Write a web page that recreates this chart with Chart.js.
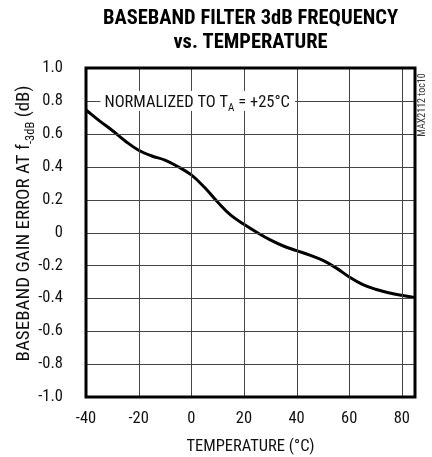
<!DOCTYPE html>
<html>
<head>
<meta charset="utf-8">
<script src="https://cdn.jsdelivr.net/npm/chart.js@4/dist/chart.umd.min.js"></script>
<style>
  html, body { margin: 0; padding: 0; background: #fff; }
</style>
</head>
<body>
<canvas id="tempchart" width="432" height="457"></canvas>
<script>
// temperature (degC) and gain error (dB)
var temps = [-40, -35, -30, -25, -20, -15, -10, -5, 0, 5, 10, 15, 20, 25, 30, 35, 40, 45, 50, 55, 60, 65, 70, 75, 80, 85];
var gainErr = [0.745, 0.68, 0.62, 0.555, 0.50, 0.465, 0.44, 0.40, 0.35, 0.275, 0.185, 0.105, 0.05, 0, -0.045, -0.082, -0.11, -0.138, -0.17, -0.215, -0.27, -0.315, -0.345, -0.366, -0.382, -0.395];

var xTicks = [-40, -20, 0, 20, 40, 60, 80];
var yTickLabels = ['-1.0', '-0.8', '-0.6', '-0.4', '-0.2', '0', '0.2', '0.4', '0.6', '0.8', '1.0'];

var titleLines = ['BASEBAND FILTER 3dB FREQUENCY', 'vs. TEMPERATURE'];
var xTitle = 'TEMPERATURE (\u00B0C)';
var yTitle = ['BASEBAND GAIN ERROR AT f', '-3dB', ' (dB)'];
var note = ['NORMALIZED TO T', 'A', ' = +25\u00B0C'];
var partNo = 'MAX2112 toc10';

var cond = '"Roboto Condensed", "DejaVu Sans Condensed", sans-serif';

var points = temps.map(function (t, i) { return { x: t, y: gainErr[i] }; });

// draw a run of text pieces, odd ones as subscripts
function drawParts(ctx, parts, x, y, size, subSize, subDrop) {
  var cx = x;
  parts.forEach(function (p, i) {
    var sub = i % 2 == 1;
    ctx.font = (sub ? subSize : size) + 'px ' + cond;
    ctx.fillText(p, cx, sub ? y + subDrop : y);
    cx += ctx.measureText(p).width;
  });
  return cx - x;
}
function partsWidth(ctx, parts, size, subSize) {
  var w = 0;
  parts.forEach(function (p, i) {
    ctx.font = (i % 2 == 1 ? subSize : size) + 'px ' + cond;
    w += ctx.measureText(p).width;
  });
  return w;
}

var extras = {
  id: 'extras',
  afterDraw: function (chart) {
    var ctx = chart.ctx, a = chart.chartArea;
    var x = chart.scales.x, y = chart.scales.y;

    // grid at the scales' tick positions
    ctx.save();
    ctx.strokeStyle = '#444';
    ctx.lineWidth = 1;
    ctx.beginPath();
    x.ticks.forEach(function (t) {
      var px = Math.round(x.getPixelForValue(t.value)) + 0.5;
      ctx.moveTo(px, a.top);
      ctx.lineTo(px, a.bottom);
    });
    y.ticks.forEach(function (t) {
      var py = Math.round(y.getPixelForValue(t.value)) + 0.5;
      ctx.moveTo(a.left, py);
      ctx.lineTo(a.right, py);
    });
    ctx.stroke();
    ctx.restore();

    // note sitting on the 0.8 grid line
    var nx = x.getPixelForValue(-33), ny = y.getPixelForValue(0.8);
    var nw = partsWidth(ctx, note, 16.5, 11);
    ctx.save();
    ctx.fillStyle = '#fff';
    ctx.fillRect(nx - 4, ny - 10, nw + 9, 20);
    ctx.fillStyle = '#111';
    ctx.textBaseline = 'alphabetic';
    drawParts(ctx, note, nx, ny + 6, 16.5, 11, 4);
    ctx.restore();

    ctx.save();
    // frame
    ctx.strokeStyle = '#000';
    ctx.lineWidth = 3;
    ctx.strokeRect(a.left, a.top, a.right - a.left, a.bottom - a.top);

    // chart title
    ctx.fillStyle = '#000';
    ctx.textAlign = 'center';
    ctx.textBaseline = 'alphabetic';
    ctx.font = 'bold 20.5px ' + cond;
    var cx = (a.left + a.right) / 2;
    ctx.fillText(titleLines[0], cx, 24);
    ctx.fillText(titleLines[1], cx, 47.5);

    // y axis title, rotated
    ctx.textAlign = 'left';
    ctx.fillStyle = '#111';
    var w = partsWidth(ctx, yTitle, 19, 12.5);
    ctx.translate(29, 223.5);
    ctx.rotate(-Math.PI / 2);
    drawParts(ctx, yTitle, -w / 2, 0, 19, 12.5, 4.5);
    ctx.restore();

    // part number at the right edge
    ctx.save();
    ctx.fillStyle = '#333';
    ctx.font = '10px ' + cond;
    ctx.textAlign = 'center';
    ctx.textBaseline = 'middle';
    ctx.translate(422, 105);
    ctx.rotate(-Math.PI / 2);
    ctx.fillText(partNo, 0, 0);
    ctx.restore();
  }
};

var chart = new Chart(document.getElementById('tempchart'), {
  type: 'line',
  data: {
    datasets: [{
      data: points,
      borderColor: '#000',
      borderWidth: 3,
      pointRadius: 0,
      fill: false,
      tension: 0.4
    }]
  },
  options: {
    responsive: false,
    animation: false,
    layout: { padding: { top: 68, right: 17, left: 0, bottom: 0 } },
    plugins: {
      legend: { display: false },
      title: { display: false },
      tooltip: { enabled: false }
    },
    scales: {
      x: {
        type: 'linear',
        min: -40,
        max: 85,
        afterFit: function (s) { s.height = 60; },
        afterBuildTicks: function (s) { s.ticks = xTicks.map(function (v) { return { value: v }; }); },
        ticks: { color: '#111', padding: 12, font: { family: cond, size: 16.5 }, maxRotation: 0 },
        grid: { display: false, drawTicks: false },
        border: { display: false },
        title: { display: true, text: xTitle, color: '#111', font: { family: cond, size: 16.5 }, padding: { top: 0, bottom: 0 } }
      },
      y: {
        min: -1,
        max: 1,
        afterFit: function (s) { s.width = 86; },
        ticks: {
          stepSize: 0.2,
          color: '#111',
          padding: 23,
          font: { family: cond, size: 16.5 },
          callback: function (v, i) { return yTickLabels[i]; }
        },
        grid: { display: false, drawTicks: false },
        border: { display: false }
      }
    }
  },
  plugins: [extras]
});
</script>
</body>
</html>
